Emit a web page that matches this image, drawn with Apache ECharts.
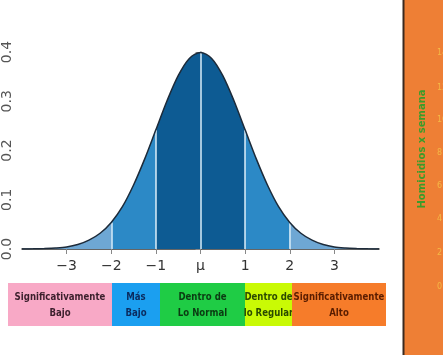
<!DOCTYPE html>
<html>
<head>
<meta charset="utf-8">
<script src="https://cdn.jsdelivr.net/npm/echarts@6/dist/echarts.min.js"></script>
<style>
  html, body { margin: 0; padding: 0; background: #fff; }
  #main { width: 443px; height: 355px; }
</style>
</head>
<body>
<div id="main"></div>
<script>
// curve (x in sigma units, y = density)
var xs = [-4, -3.75, -3.5, -3.25, -3, -2.75, -2.5, -2.25, -2, -1.75, -1.5, -1.25, -1, -0.75, -0.5, -0.25,
  0, 0.25, 0.5, 0.75, 1, 1.25, 1.5, 1.75, 2, 2.25, 2.5, 2.75, 3, 3.25, 3.5, 3.75, 4];
var density = [0.0001, 0.0004, 0.001, 0.002, 0.004, 0.009, 0.018, 0.032, 0.054, 0.086, 0.130, 0.183, 0.242, 0.301, 0.352, 0.387,
  0.399, 0.387, 0.352, 0.301, 0.242, 0.183, 0.130, 0.086, 0.054, 0.032, 0.018, 0.009, 0.004, 0.002, 0.001, 0.0004, 0.0001];

// shaded bands
var bandFrom = [-4, -2, -1, 1, 2];
var bandTo = [-2, -1, 1, 2, 4];
var bandColor = ['#6ea7d4', '#2c89c6', '#0d5b93', '#2c89c6', '#6ea7d4'];

// white divider lines
var cutX = [-2, -1, 0, 1, 2];
var cutY = [0.054, 0.242, 0.399, 0.242, 0.054];

var xTicks = [-3, -2, -1, 0, 1, 2, 3];

// bottom labels
var boxLabels = ['Significativamente\nBajo', 'Más\nBajo', 'Dentro de\nLo Normal', 'Dentro de\nlo Regular', 'Significativamente\nAlto'];
var boxColors = ['#f8a9c6', '#1b9ff0', '#1fcc45', '#c9fa05', '#f67c2a'];
var boxText = ['#3b1f2c', '#0b2b5e', '#0b3a12', '#2b4a00', '#5a1d00'];
var boxEdges = [8, 112, 160, 245, 292, 386];

// right side panel (cut-off neighbour chart)
var sideTicks = ['14', '12', '10', '8', '6', '4', '2', '0'];
var sideTickY = [53, 88, 120, 153, 186, 219, 253, 287];

var chart = echarts.init(document.getElementById('main'), null, { renderer: 'canvas' });

var series = [];
for (var b = 0; b < bandFrom.length; b++) {
  var pts = [];
  for (var i = 0; i < xs.length; i++) {
    if (xs[i] >= bandFrom[b] && xs[i] <= bandTo[b]) pts.push([xs[i], density[i]]);
  }
  series.push({
    type: 'line',
    data: pts,
    smooth: 0.3,
    showSymbol: false,
    lineStyle: { width: 0 },
    areaStyle: { color: bandColor[b], opacity: 1 },
    silent: true,
    z: 2
  });
}

var cutLines = [];
for (var c = 0; c < cutX.length; c++) {
  cutLines.push([{ coord: [cutX[c], 0] }, { coord: [cutX[c], cutY[c]] }]);
}

var outline = [];
for (var k = 0; k < xs.length; k++) outline.push([xs[k], density[k]]);

series.push({
  type: 'line',
  data: outline,
  smooth: 0.3,
  showSymbol: false,
  lineStyle: { color: '#1d2b3a', width: 1.5 },
  silent: true,
  z: 4,
  markLine: {
    silent: true,
    symbol: ['none', 'none'],
    label: { show: false },
    lineStyle: { color: '#d8ecf8', width: 1.5, type: 'solid' },
    data: cutLines,
    z: 3
  }
});

var graphics = [];
for (var j = 0; j < boxLabels.length; j++) {
  graphics.push({
    type: 'rect',
    shape: { x: boxEdges[j], y: 283, width: boxEdges[j + 1] - boxEdges[j], height: 43 },
    style: { fill: boxColors[j] }
  });
  graphics.push({
    type: 'text',
    x: (boxEdges[j] + boxEdges[j + 1]) / 2,
    y: 305,
    scaleX: 0.78,
    style: {
      text: boxLabels[j],
      fill: boxText[j],
      font: 'bold 11px "DejaVu Sans", sans-serif',
      align: 'center',
      verticalAlign: 'middle',
      lineHeight: 16
    }
  });
}

// orange panel on the right, dark left edge
graphics.push({
  type: 'rect',
  shape: { x: 404, y: 0, width: 39, height: 355 },
  style: { fill: '#ee7f35' }
});
graphics.push({
  type: 'line',
  shape: { x1: 403.5, y1: 0, x2: 403.5, y2: 355 },
  style: { stroke: '#3a2a20', lineWidth: 2 }
});
graphics.push({
  type: 'text',
  x: 422,
  y: 149,
  rotation: Math.PI / 2,
  style: {
    text: 'Homicidios x semana',
    fill: '#3b9c2a',
    font: 'bold 10px "DejaVu Sans", sans-serif',
    align: 'center',
    verticalAlign: 'middle'
  }
});
for (var s = 0; s < sideTicks.length; s++) {
  graphics.push({
    type: 'text',
    x: 437,
    y: sideTickY[s],
    style: {
      text: sideTicks[s],
      fill: '#f5b845',
      font: '8px "DejaVu Sans", sans-serif',
      align: 'left',
      verticalAlign: 'middle'
    }
  });
}

var option = {
  backgroundColor: '#ffffff',
  animation: false,
  grid: { left: 21, right: 64, top: 52, bottom: 106, containLabel: false },
  xAxis: {
    type: 'value',
    min: -4,
    max: 4,
    interval: 1,
    axisLine: { show: true, onZero: false, lineStyle: { color: '#333', width: 1.5 } },
    axisTick: { show: true, customValues: xTicks, length: 5, lineStyle: { color: '#888' } },
    axisLabel: {
      customValues: xTicks,
      margin: 10,
      color: '#333',
      fontSize: 14,
      fontFamily: 'DejaVu Sans',
      formatter: function (v) {
        if (v === 0) return 'μ';
        return v < 0 ? '\u2212' + Math.abs(v) : String(v);
      }
    },
    splitLine: { show: false }
  },
  yAxis: {
    type: 'value',
    min: 0,
    max: 0.4,
    interval: 0.1,
    axisLine: { show: true, lineStyle: { color: '#888', width: 1.5 } },
    axisTick: { show: true, length: 5, lineStyle: { color: '#888' } },
    axisLabel: {
      rotate: 90,
      margin: 8,
      color: '#555',
      fontSize: 14,
      fontFamily: 'DejaVu Sans',
      formatter: function (v) { return v.toFixed(1); }
    },
    splitLine: { show: false }
  },
  series: series,
  graphic: graphics
};

chart.setOption(option);
</script>
</body>
</html>
